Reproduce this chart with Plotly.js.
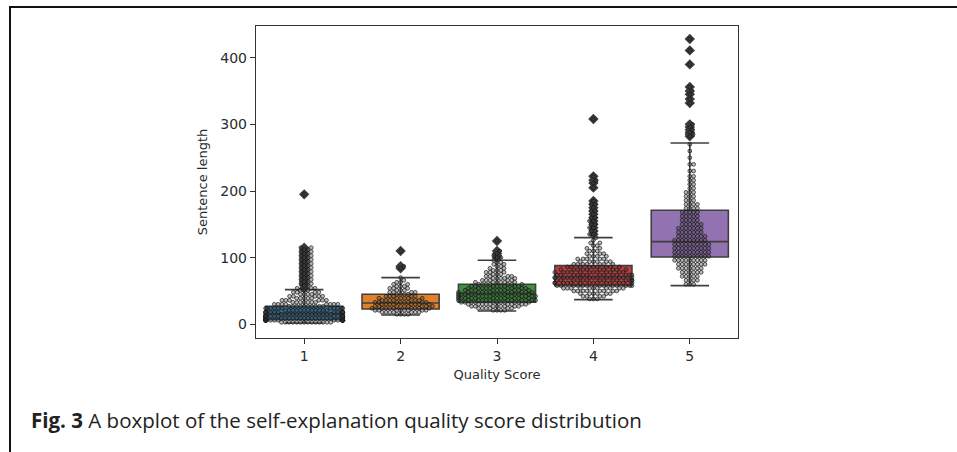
<!DOCTYPE html>
<html>
<head>
<meta charset="utf-8">
<script src="https://cdn.plot.ly/plotly-3.0.1.min.js"></script>
<style>
  html, body { margin: 0; padding: 0; background: #ffffff; }
  #wrap { position: relative; width: 957px; height: 452px; overflow: hidden; }
  #chart { position: absolute; left: 0; top: 0; width: 957px; height: 452px; }
  #frame { position: absolute; left: 9px; top: 6px; width: 960px; height: 460px;
           border-left: 2.5px solid #111; border-top: 2.5px solid #111; pointer-events: none; }
</style>
</head>
<body>
<div id="wrap">
  <div id="chart"></div>
  <div id="frame"></div>
</div>
<script>
// ---- data ----
const categories = ['1', '2', '3', '4', '5'];
const boxColors = ['#3274a1', '#e1812c', '#3a923a', '#c03d3e', '#9372b2'];

// box statistics per quality score
const q1Vals     = [7, 23, 33, 58, 101];
const medianVals = [16, 32, 46, 71, 124];
const q3Vals     = [27, 45, 60, 88, 171];
const lowWhisk   = [2, 14, 20, 37, 58];
const highWhisk  = [52, 70, 96, 130, 272];

// sentence lengths (value / count frequency tables) per quality score
const lengths1 = [3, 6, 9, 12, 15, 18, 21, 24, 27, 30, 33, 36, 39, 42, 45, 48, 51, 54,
                  58, 61, 64, 67, 70, 73, 76, 79, 82, 85, 88, 91, 94, 97, 100, 103, 106, 109, 112, 115, 195];
const counts1  = [14, 20, 20, 18, 16, 14, 12, 11, 10, 8, 7, 6, 5, 5, 4, 4, 3, 3,
                  2, 2, 2, 2, 2, 2, 2, 2, 2, 2, 2, 2, 2, 2, 2, 2, 2, 2, 2, 2, 1];

const lengths2 = [15, 18, 21, 24, 27, 30, 33, 36, 39, 42, 45, 48, 51, 54, 57, 60, 63, 66, 70, 84, 87, 110];
const counts2  = [4, 7, 8, 9, 9, 8, 8, 7, 6, 5, 4, 4, 3, 3, 3, 2, 2, 1, 1, 1, 1, 1];

const lengths3 = [21, 24, 27, 30, 33, 36, 39, 42, 45, 48, 51, 54, 57, 60, 63, 66, 69, 72, 75, 78, 81, 84, 87, 90, 93, 96, 100, 103, 106, 110, 125];
const counts3  = [4, 6, 8, 9, 11, 12, 12, 12, 12, 11, 10, 9, 8, 7, 6, 5, 5, 4, 3, 3, 3, 2, 2, 2, 2, 1, 2, 1, 1, 1, 1];

const lengths4 = [38, 42, 46, 50, 54, 58, 62, 66, 70, 74, 78, 82, 86, 90, 94, 98, 102, 106, 110, 114, 118, 122, 126, 130,
                  135, 140, 145, 150, 155, 160, 165, 170, 175, 180, 185, 205, 212, 216, 222, 308];
const counts4  = [3, 4, 6, 8, 11, 13, 14, 14, 14, 13, 12, 10, 9, 7, 6, 5, 4, 3, 3, 2, 2, 2, 1, 1,
                  2, 2, 2, 2, 2, 2, 1, 2, 1, 2, 1, 1, 1, 1, 1, 1];

const lengths5 = [60, 66, 72, 78, 84, 90, 96, 102, 108, 114, 120, 126, 132, 138, 144, 150, 156, 162, 168, 174, 180, 186, 192, 198,
                  204, 210, 216, 222, 230, 240, 250, 260, 270, 282, 285, 288, 292, 296, 300, 332, 338, 345, 350, 356, 390, 411, 428];
const counts5  = [3, 4, 5, 6, 7, 8, 9, 10, 10, 10, 10, 9, 8, 7, 7, 6, 5, 5, 5, 4, 4, 3, 3, 3,
                  2, 2, 2, 2, 2, 2, 1, 1, 1, 1, 1, 1, 1, 1, 1, 1, 1, 1, 1, 1, 1, 1, 1];

const yTicks = [0, 100, 200, 300, 400];

// ---- layout constants ----
const W = 957, H = 452;
const M = { l: 256, r: 219, t: 26, b: 114 };
const xRange = [0.5, 5.5];
const yRange = [-20.6, 447.6];
const boxWidth = 0.8;
const dotSize = 3.8;

const pxPerY = (H - M.t - M.b) / (yRange[1] - yRange[0]);
const pxPerX = (W - M.l - M.r) / (xRange[1] - xRange[0]);

// beeswarm offsets (seaborn-like), overflow pushed to the gutter
function swarmOffsets(values) {
  const d = dotSize;
  const placed = [];
  const offs = [];
  values.forEach(v => {
    const py = v * pxPerY;
    const nb = placed.filter(p => Math.abs(p.y - py) < d);
    const cands = [0];
    nb.forEach(p => {
      const dx = Math.sqrt(d * d - (py - p.y) * (py - p.y));
      cands.push(p.x + dx, p.x - dx);
    });
    cands.sort((a, b) => Math.abs(a) - Math.abs(b));
    let chosen = cands[cands.length - 1];
    for (const c of cands) {
      if (nb.every(p => (c - p.x) * (c - p.x) + (py - p.y) * (py - p.y) >= d * d - 1e-6)) { chosen = c; break; }
    }
    placed.push({ x: chosen, y: py });
    const lim = boxWidth / 2 * pxPerX;
    offs.push(Math.max(-lim, Math.min(lim, chosen)) / pxPerX);
  });
  return offs;
}

// ---- build traces ----
const lengthTables = [lengths1, lengths2, lengths3, lengths4, lengths5];
const countTables  = [counts1, counts2, counts3, counts4, counts5];
const positions = categories.map((c, i) => i + 1);

const traces = [];

categories.forEach((c, i) => {
  traces.push({
    type: 'box',
    x: [positions[i]],
    q1: [q1Vals[i]],
    median: [medianVals[i]],
    q3: [q3Vals[i]],
    lowerfence: [lowWhisk[i]],
    upperfence: [highWhisk[i]],
    fillcolor: boxColors[i],
    line: { color: '#3f3f3f', width: 1.6 },
    width: boxWidth,
    whiskerwidth: 0.5,
    boxpoints: false,
    hoverinfo: 'skip',
    showlegend: false
  });
});

// fliers (values beyond the upper whisker)
const flierX = [], flierY = [];
categories.forEach((c, i) => {
  lengthTables[i].forEach(v => {
    if (v > highWhisk[i]) { flierX.push(positions[i]); flierY.push(v); }
  });
});
traces.push({
  type: 'scatter',
  mode: 'markers',
  x: flierX,
  y: flierY,
  marker: { symbol: 'diamond', size: 8, color: '#3a3a3a', line: { width: 0 } },
  hoverinfo: 'skip',
  showlegend: false
});

// swarm of all observations
categories.forEach((c, i) => {
  const ys = [];
  lengthTables[i].forEach((v, k) => {
    for (let n = 0; n < countTables[i][k]; n++) ys.push(v);
  });
  const offs = swarmOffsets(ys);
  traces.push({
    type: 'scatter',
    mode: 'markers',
    x: ys.map((v, k) => positions[i] + offs[k]),
    y: ys,
    marker: { size: dotSize, color: 'rgba(60,60,60,0.35)', line: { color: '#1a1a1a', width: 0.7 } },
    hoverinfo: 'skip',
    showlegend: false
  });
});

const tickFont = { family: 'DejaVu Sans, sans-serif', size: 14, color: '#2b2b2b' };
const titleFont = { family: 'DejaVu Sans, sans-serif', size: 13, color: '#2b2b2b' };

const layout = {
  width: W,
  height: H,
  margin: { l: M.l, r: M.r, t: M.t, b: M.b, pad: 0 },
  paper_bgcolor: '#ffffff',
  plot_bgcolor: '#ffffff',
  boxmode: 'overlay',
  showlegend: false,
  xaxis: {
    range: xRange,
    tickvals: positions,
    ticktext: categories,
    showline: true, mirror: true, linecolor: '#333333', linewidth: 1.2,
    ticks: 'outside', ticklen: 5, tickcolor: '#333333', tickwidth: 1,
    showgrid: false, zeroline: false,
    tickfont: tickFont,
    title: { text: 'Quality Score', font: titleFont, standoff: 6 }
  },
  yaxis: {
    range: yRange,
    tickvals: yTicks,
    ticktext: yTicks.map(String),
    showline: true, mirror: true, linecolor: '#333333', linewidth: 1.2,
    ticks: 'outside', ticklen: 5, tickcolor: '#333333', tickwidth: 1,
    showgrid: false, zeroline: false,
    tickfont: tickFont,
    title: { text: 'Sentence length', font: titleFont, standoff: 9 }
  },
  annotations: [{
    xref: 'paper', yref: 'paper',
    x: -0.471, y: -0.262,
    xanchor: 'left', yanchor: 'middle',
    showarrow: false,
    text: '<b>Fig. 3</b> A boxplot of the self-explanation quality score distribution',
    font: { family: 'Open Sans, sans-serif', size: 20.5, color: '#222222' }
  }]
};

Plotly.newPlot('chart', traces, layout, { staticPlot: true, displayModeBar: false });
</script>
</body>
</html>
